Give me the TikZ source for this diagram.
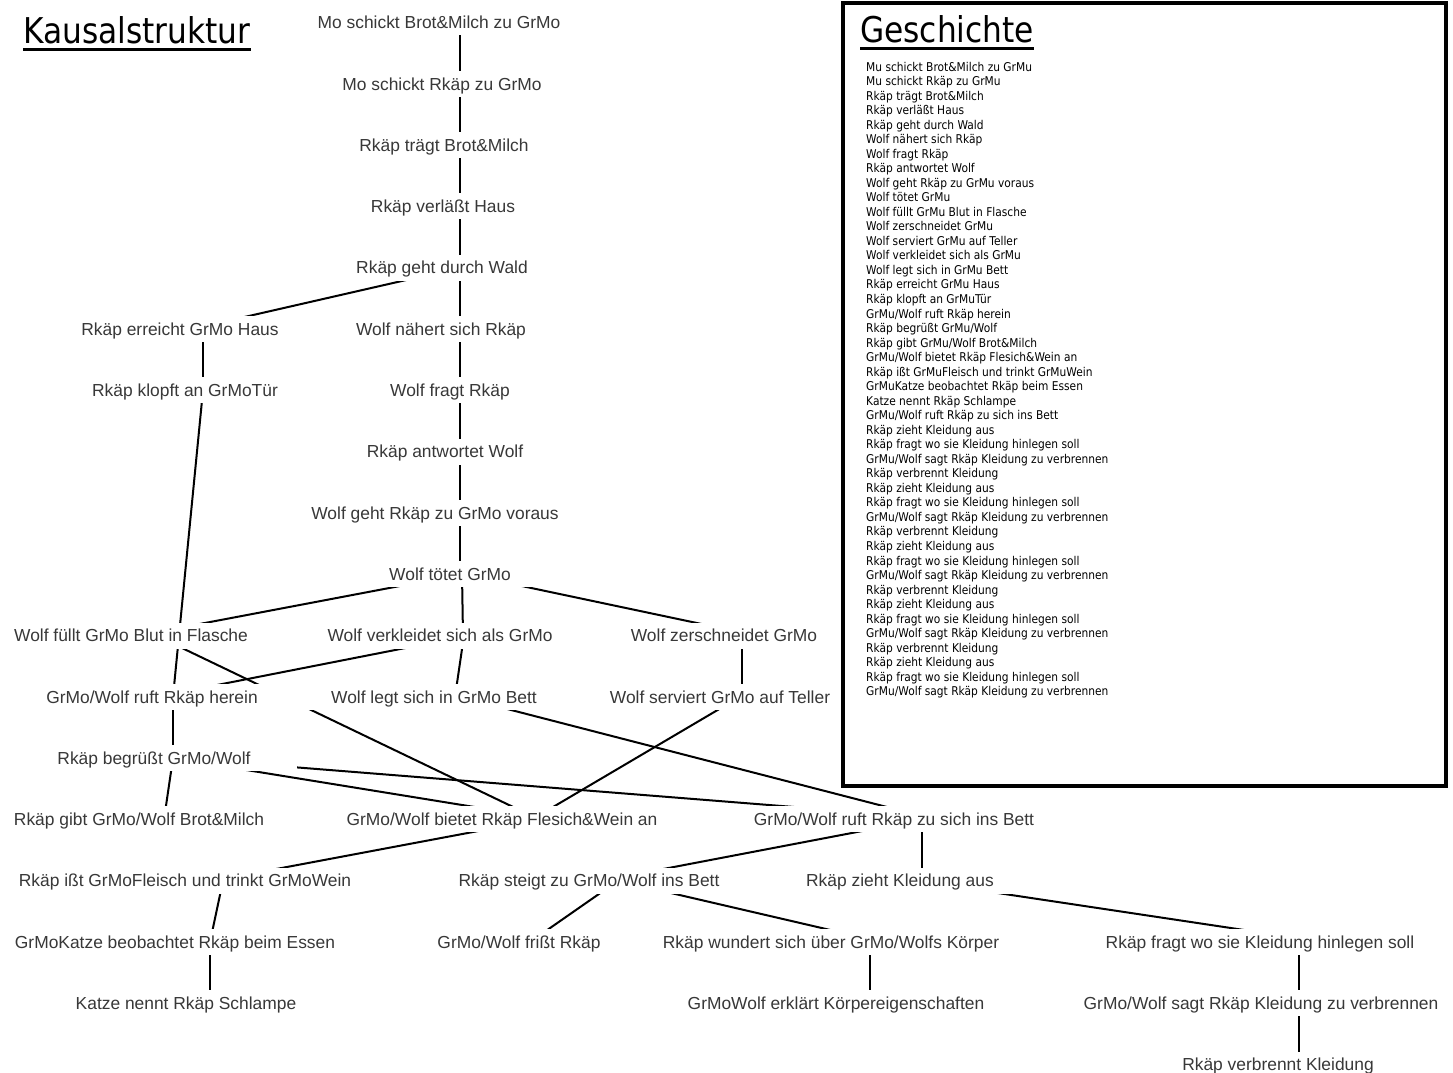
\documentclass[tikz,border=0pt]{standalone}
\usepackage{fontspec}
\newfontfamily\evfont{Liberation Sans}
\newfontfamily\tahfont[FakeStretch=0.88]{DejaVu Sans}
\usetikzlibrary{backgrounds}
\tikzset{
	node_ev/.style = {
		fill=white,
		text=black!78,
		font=\evfont\fontsize{17.4pt}{20pt}\selectfont,
		inner xsep=46pt,
		inner ysep=0pt,
		text height=12.5pt,
		text depth=0pt,
		minimum height=26pt
	},
	node_title/.style = {
		anchor=base west,
		inner sep=0pt,
		font=\tahfont\fontsize{35.5pt}{40pt}\selectfont
	},
	node_story/.style = {
		anchor=base west,
		inner sep=0pt,
		font=\tahfont\fontsize{12.1pt}{14pt}\selectfont
	},
	edge_c/.style = {
		line width=2pt
	},
}

\begin{document}
\begin{tikzpicture}[x=1pt, y=-1pt]
\useasboundingbox (0,0) rectangle (1453,1073);

% Kausalstruktur
\node [node_ev] (n1) at (439,22.5) {Mo schickt Brot\&Milch zu GrMo};
\node [node_ev] (n2) at (442,83.8) {Mo schickt Rkäp zu GrMo};
\node [node_ev] (n3) at (444,145.1) {Rkäp trägt Brot\&Milch};
\node [node_ev] (n4) at (443,206.4) {Rkäp verläßt Haus};
\node [node_ev] (n5) at (442,267.7) {Rkäp geht durch Wald};
\node [node_ev] (a1) at (180,329) {Rkäp erreicht GrMo Haus};
\node [node_ev] (n6) at (441,329) {Wolf nähert sich Rkäp};
\node [node_ev] (a2) at (185,390.3) {Rkäp klopft an GrMoTür};
\node [node_ev] (n7) at (450,390.3) {Wolf fragt Rkäp};
\node [node_ev] (n8) at (445,451.6) {Rkäp antwortet Wolf};
\node [node_ev] (n9) at (435,512.9) {Wolf geht Rkäp zu GrMo voraus};
\node [node_ev] (n10) at (450,574.2) {Wolf tötet GrMo};
\node [node_ev] (b1) at (131,635.5) {Wolf füllt GrMo Blut in Flasche};
\node [node_ev] (b2) at (440,635.5) {Wolf verkleidet sich als GrMo};
\node [node_ev] (b3) at (724,635.5) {Wolf zerschneidet GrMo};
\node [node_ev] (c1) at (152,696.8) {GrMo/Wolf ruft Rkäp herein};
\node [node_ev] (c2) at (434,696.8) {Wolf legt sich in GrMo Bett};
\node [node_ev] (c3) at (720,696.8) {Wolf serviert GrMo auf Teller};
\node [node_ev] (d1) at (154,758.1) {Rkäp begrüßt GrMo/Wolf};
\node [node_ev] (e1) at (139,819.4) {Rkäp gibt GrMo/Wolf Brot\&Milch};
\node [node_ev] (e2) at (502,819.4) {GrMo/Wolf bietet Rkäp Flesich\&Wein an};
\node [node_ev] (e3) at (894,819.4) {GrMo/Wolf ruft Rkäp zu sich ins Bett};
\node [node_ev] (f1) at (185,880.7) {Rkäp ißt GrMoFleisch und trinkt GrMoWein};
\node [node_ev] (f2) at (589,880.7) {Rkäp steigt zu GrMo/Wolf ins Bett};
\node [node_ev] (f3) at (900,880.7) {Rkäp zieht Kleidung aus};
\node [node_ev] (g1) at (175,942) {GrMoKatze beobachtet Rkäp beim Essen};
\node [node_ev] (g2) at (519,942) {GrMo/Wolf frißt Rkäp};
\node [node_ev] (g3) at (831,942) {Rkäp wundert sich über GrMo/Wolfs Körper};
\node [node_ev] (g4) at (1260,942) {Rkäp fragt wo sie Kleidung hinlegen soll};
\node [node_ev] (h1) at (186,1003.3) {Katze nennt Rkäp Schlampe};
\node [node_ev] (h2) at (836,1003.3) {GrMoWolf erklärt Körpereigenschaften};
\node [node_ev] (h3) at (1261,1003.3) {GrMo/Wolf sagt Rkäp Kleidung zu verbrennen};
\node [node_ev] (i3) at (1278,1064.6) {Rkäp verbrennt Kleidung};

% connectors, hidden under the white node boxes
\begin{pgfonlayer}{background}
\foreach \p/\c in {n1/n2, n2/n3, n3/n4, n4/n5, n5/n6, n6/n7, n7/n8, n8/n9, n9/n10}
	\draw [edge_c] (\p.center -| 460,0) -- (\c.center -| 460,0);
\draw [edge_c] (n5.center -| 460,0) -- (a1.center -| 192,0);
\draw [edge_c] (a1.center -| 203,0) -- (a2.center -| 203,0);
\draw [edge_c] (a2.center -| 203,0) -- (c1.center -| 173,0);
\draw [edge_c] (n10.center -| 462,0) -- (b1.center -| 139,0);
\draw [edge_c] (n10.center -| 462,0) -- (b2.center -| 463,0);
\draw [edge_c] (n10.center -| 466,0) -- (b3.center -| 756,0);
\draw [edge_c] (b1.center -| 156,0) -- (e2.center -| 539,0);
\draw [edge_c] (b2.center -| 469,0) -- (c1.center -| 157,0);
\draw [edge_c] (b2.center -| 464,0) -- (c2.center -| 455,0);
\draw [edge_c] (b3.center -| 742,0) -- (c3.center -| 742,0);
\draw [edge_c] (c1.center -| 173,0) -- (d1.center -| 173,0);
\draw [edge_c] (c2.center -| 460,0) -- (e3.center -| 935,0);
\draw [edge_c] (c3.center -| 740,0) -- (e2.center -| 532,0);
\draw [edge_c] (d1.center -| 173,0) -- (e1.center -| 164,0);
\draw [edge_c] (d1.center -| 173,0) -- (e2.center -| 551,0);
\draw [edge_c] (d1.center -| 180,0) -- (e3.center -| 950,0);
\draw [edge_c] (e2.center -| 540,0) -- (f1.center -| 214,0);
\draw [edge_c] (e3.center -| 923,0) -- (f2.center -| 602,0);
\draw [edge_c] (e3.center -| 922,0) -- (f3.center -| 922,0);
\draw [edge_c] (f1.center -| 223,0) -- (g1.center -| 210,0);
\draw [edge_c] (f2.center -| 618,0) -- (g2.center -| 530,0);
\draw [edge_c] (f2.center -| 618,0) -- (g3.center -| 882,0);
\draw [edge_c] (f3.center -| 916,0) -- (g4.center -| 1324,0);
\draw [edge_c] (g1.center -| 210,0) -- (h1.center -| 210,0);
\draw [edge_c] (g3.center -| 870,0) -- (h2.center -| 870,0);
\draw [edge_c] (g4.center -| 1299,0) -- (h3.center -| 1299,0);
\draw [edge_c] (h3.center -| 1299,0) -- (i3.center -| 1299,0);
\end{pgfonlayer}

\node [node_title] (kausal) at (23,43.3) {Kausalstruktur};
\draw [line width=2.7pt] ([yshift=-6pt]kausal.base west) -- ([yshift=-6pt]kausal.base east);

% Geschichte
\draw [line width=4.5pt, fill=white] (843,3) rectangle (1446,786);
\node [node_title] (gesch) at (860,43) {Geschichte};
\draw [line width=2.7pt] ([yshift=-5.5pt]gesch.base west) -- ([yshift=-5.5pt]gesch.base east);
\foreach \s [count=\i from 0] in {
	Mu schickt Brot\&Milch zu GrMu,
	Mu schickt Rkäp zu GrMu,
	Rkäp trägt Brot\&Milch,
	Rkäp verläßt Haus,
	Rkäp geht durch Wald,
	Wolf nähert sich Rkäp,
	Wolf fragt Rkäp,
	Rkäp antwortet Wolf,
	Wolf geht Rkäp zu GrMu voraus,
	Wolf tötet GrMu,
	Wolf füllt GrMu Blut in Flasche,
	Wolf zerschneidet GrMu,
	Wolf serviert GrMu auf Teller,
	Wolf verkleidet sich als GrMu,
	Wolf legt sich in GrMu Bett,
	Rkäp erreicht GrMu Haus,
	Rkäp klopft an GrMuTür,
	GrMu/Wolf ruft Rkäp herein,
	Rkäp begrüßt GrMu/Wolf,
	Rkäp gibt GrMu/Wolf Brot\&Milch,
	GrMu/Wolf bietet Rkäp Flesich\&Wein an,
	Rkäp ißt GrMuFleisch und trinkt GrMuWein,
	GrMuKatze beobachtet Rkäp beim Essen,
	Katze nennt Rkäp Schlampe,
	GrMu/Wolf ruft Rkäp zu sich ins Bett,
	Rkäp zieht Kleidung aus,
	Rkäp fragt wo sie Kleidung hinlegen soll,
	GrMu/Wolf sagt Rkäp Kleidung zu verbrennen,
	Rkäp verbrennt Kleidung,
	Rkäp zieht Kleidung aus,
	Rkäp fragt wo sie Kleidung hinlegen soll,
	GrMu/Wolf sagt Rkäp Kleidung zu verbrennen,
	Rkäp verbrennt Kleidung,
	Rkäp zieht Kleidung aus,
	Rkäp fragt wo sie Kleidung hinlegen soll,
	GrMu/Wolf sagt Rkäp Kleidung zu verbrennen,
	Rkäp verbrennt Kleidung,
	Rkäp zieht Kleidung aus,
	Rkäp fragt wo sie Kleidung hinlegen soll,
	GrMu/Wolf sagt Rkäp Kleidung zu verbrennen,
	Rkäp verbrennt Kleidung,
	Rkäp zieht Kleidung aus,
	Rkäp fragt wo sie Kleidung hinlegen soll,
	GrMu/Wolf sagt Rkäp Kleidung zu verbrennen}
	\node [node_story] (st\i) at (866,{71+14.53*\i}) {\s};
\end{tikzpicture}
\end{document}
